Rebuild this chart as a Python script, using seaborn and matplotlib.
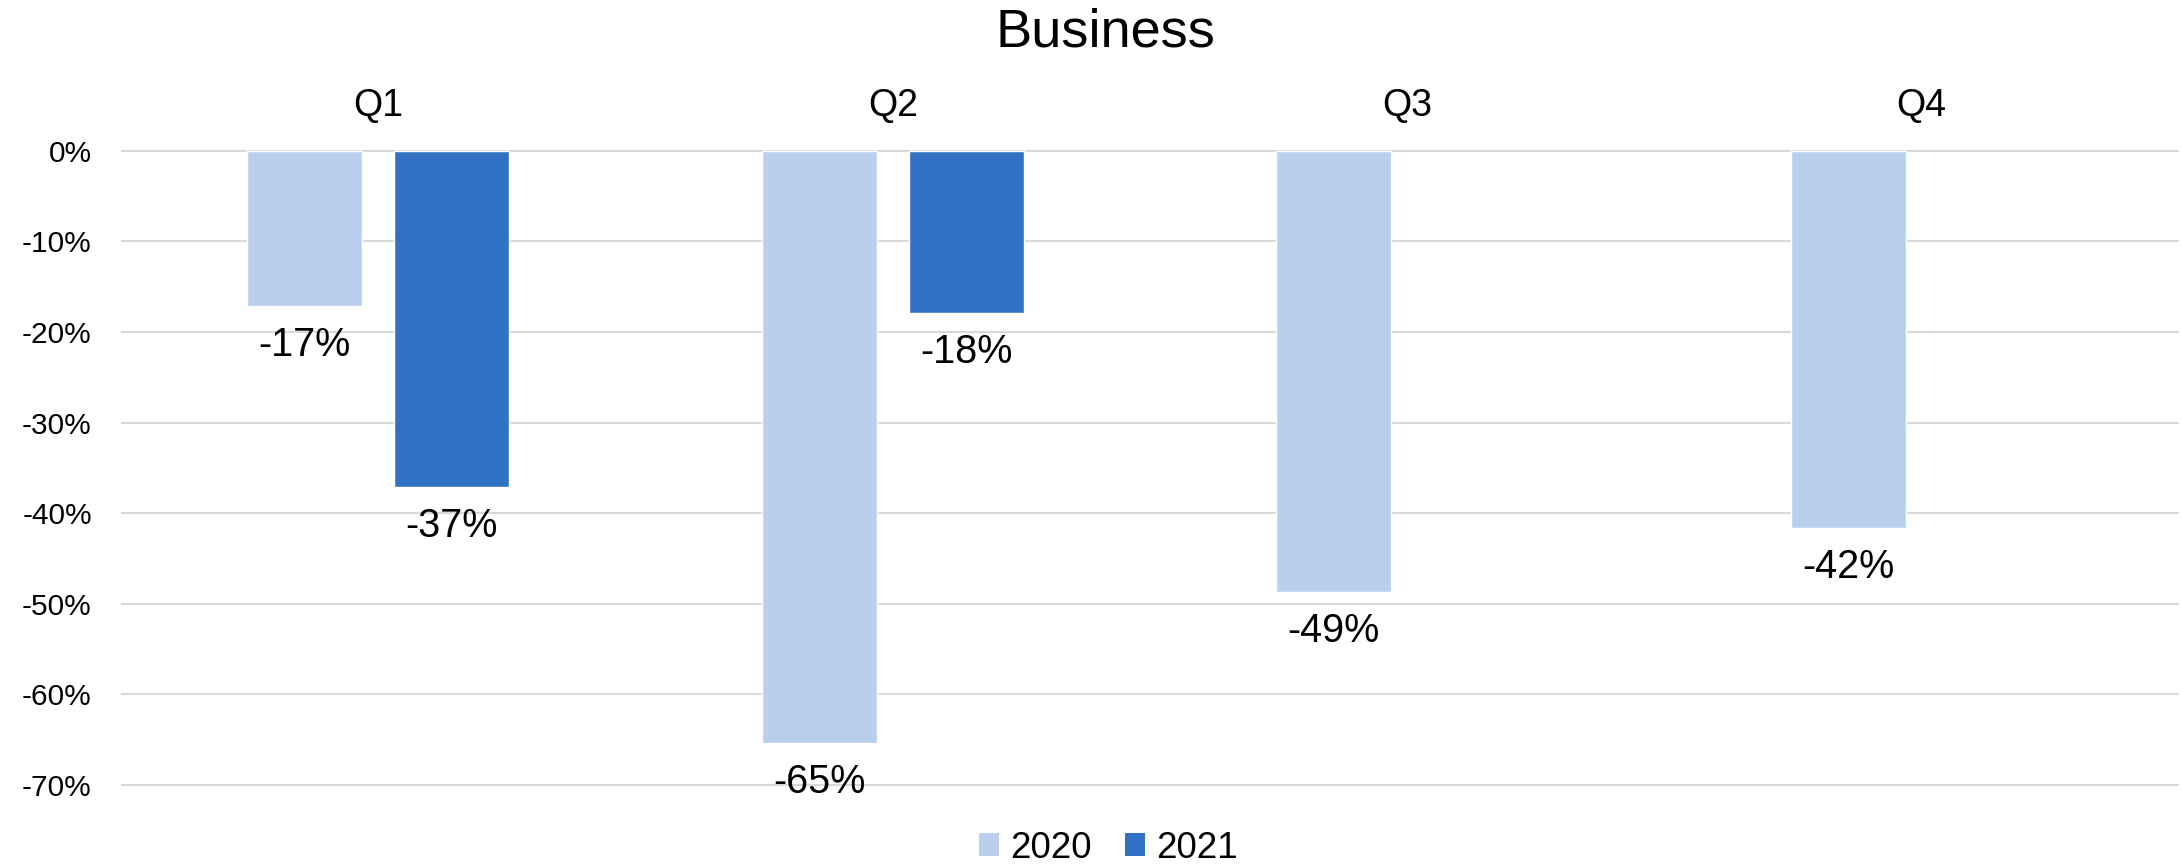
import matplotlib
matplotlib.use("Agg")
import matplotlib.pyplot as plt
from matplotlib.patches import Patch
from matplotlib.ticker import PercentFormatter
import pandas as pd
import seaborn as sns

# Year-over-year change per quarter
quarters = ["Q1", "Q2", "Q3", "Q4"]
years = ["2020", "2021"]
change_2020 = [-0.171, -0.654, -0.487, -0.416]
change_2021 = [-0.371, -0.179, None, None]
y_ticks = [0.0, -0.1, -0.2, -0.3, -0.4, -0.5, -0.6, -0.7]

colors = {"2020": "#BACFED", "2021": "#3172C4"}

rows = []
for q, v in zip(quarters, change_2020):
    if v is not None:
        rows.append({"quarter": q, "year": "2020", "change": v})
for q, v in zip(quarters, change_2021):
    if v is not None:
        rows.append({"quarter": q, "year": "2021", "change": v})
df = pd.DataFrame(rows)

sns.set_theme(style="white")
plt.rcParams["font.family"] = ["Liberation Sans", "DejaVu Sans"]
plt.rcParams["axes.unicode_minus"] = False
plt.rcParams["text.color"] = "black"
plt.rcParams["xtick.color"] = "black"
plt.rcParams["ytick.color"] = "black"

W, H = 2181, 865
fig = plt.figure(figsize=(W / 100, H / 100), dpi=100)
ax = fig.add_axes([121 / W, 1 - 787.6 / H, (2179 - 121) / W, (787.6 - 148) / H])

sns.barplot(
    data=df, x="quarter", y="change", hue="year",
    order=quarters, hue_order=years, palette=colors,
    width=0.572, gap=0.218, saturation=1, errorbar=None,
    legend=False, ax=ax, zorder=3,
)

ax.set_ylim(-0.703, 0.003)
ax.set_xlim(-0.5, len(quarters) - 0.5)
ax.set_yticks(y_ticks)
ax.yaxis.set_major_formatter(PercentFormatter(1.0, decimals=0))
ax.grid(axis="y", color="#D9D9D9", linewidth=1.5, zorder=0)
ax.grid(axis="x", visible=False)
for s in ax.spines.values():
    s.set_visible(False)

ax.xaxis.tick_top()
ax.tick_params(axis="x", length=0, pad=17, labelsize=27, labeltop=True,
               labelbottom=False, labelcolor="black")
ax.tick_params(axis="y", length=0, pad=21, labelsize=21.5, labelcolor="black")
ax.set_xlabel("")
ax.set_ylabel("")

# Value labels under each bar end
for container in ax.containers:
    for bar in container:
        h = bar.get_height()
        if pd.isna(h):
            continue
        ax.annotate(
            f"{h * 100:.0f}%",
            xy=(bar.get_x() + bar.get_width() / 2, h),
            xytext=(0, -50), textcoords="offset pixels",
            ha="center", va="baseline", fontsize=28.5, color="black",
        )

fig.text(1105 / W, 1 - 46.7 / H, "Business", ha="center", va="baseline",
         fontsize=39, color="black")

handles = [Patch(facecolor=colors[y], edgecolor="none", label=y) for y in years]
leg = fig.legend(
    handles=handles, loc="center", bbox_to_anchor=(1108 / W, 1 - 848 / H),
    ncol=2, frameon=False, fontsize=26.5, handlelength=0.55, handleheight=0.55,
    handletextpad=0.3, columnspacing=0.9, borderpad=0, borderaxespad=0,
)
for t in leg.get_texts():
    t.set_color("black")

fig.savefig("out.png", dpi=100)
